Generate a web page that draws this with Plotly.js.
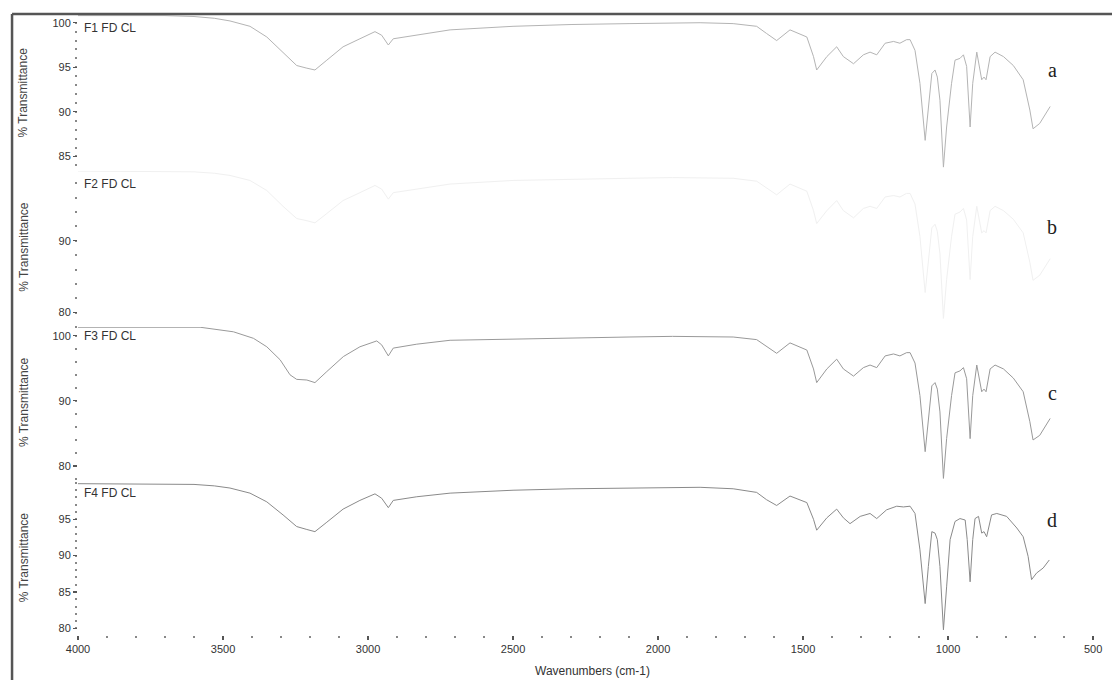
<!DOCTYPE html>
<html>
<head>
<meta charset="utf-8">
<script src="https://cdn.plot.ly/plotly-3.0.1.min.js"></script>
<style>html,body{margin:0;padding:0;background:#fff;}#chart{width:1112px;height:680px;}</style>
</head>
<body>
<div id="chart"></div>
<script>
// Wavenumbers (cm-1) and % Transmittance
const wnA = [4000,3900,3800,3700,3600,3530,3476,3407,3349,3293,3246,3211,3183,3142,3086,3028,2976,2953,2930,2913,2832,2717,2500,2300,2100,1950,1855,1741,1660,1626,1591,1545,1487,1464,1453,1418,1384,1361,1326,1292,1269,1246,1217,1188,1166,1143,1131,1114,1097,1079,1068,1056,1045,1037,1028,1016,1005,988,976,959,947,936,924,915,901,884,876,869,855,838,809,775,741,718,707,684,648];
const tA = [100.8,100.8,100.8,100.8,100.7,100.5,100.2,99.6,98.4,96.6,95.2,94.9,94.7,95.8,97.3,98.2,99.0,98.6,97.5,98.2,98.6,99.2,99.6,99.8,99.9,100.0,100.0,99.9,99.6,98.8,98.0,99.2,98.4,96.2,94.7,96.2,97.3,96.2,95.4,96.4,96.7,96.4,97.7,97.9,97.7,98.1,98.1,96.9,93.2,86.8,90.6,94.3,94.7,93.9,91.3,83.8,88.3,93.2,95.8,96.0,96.4,95.1,88.3,93.2,96.7,93.6,93.9,93.6,96.2,96.7,96.2,95.2,93.6,90.2,88.1,88.7,90.6];
const wnB = wnA;
const tB = [99.7,99.7,99.7,99.7,99.6,99.4,99.1,98.4,97.0,94.8,93.1,92.8,92.5,93.8,95.6,96.7,97.7,97.2,95.8,96.7,97.2,97.9,98.4,98.6,98.7,98.8,98.8,98.7,98.3,97.4,96.4,97.9,96.9,94.2,92.4,94.2,95.6,94.2,93.2,94.5,94.8,94.5,96.1,96.3,96.1,96.6,96.6,95.1,90.6,82.8,87.4,91.8,92.3,91.3,88.2,79.2,84.6,90.6,93.7,94.0,94.5,92.9,84.6,90.6,94.8,91.1,91.4,91.1,94.2,94.8,94.2,93.0,91.1,87.0,84.5,85.2,87.5];
const wnC = [4000,3900,3800,3700,3579,3464,3395,3349,3303,3269,3246,3211,3183,3142,3085,3028,2970,2953,2930,2913,2832,2717,2500,2300,2100,1950,1855,1741,1660,1626,1591,1545,1487,1464,1453,1418,1384,1361,1326,1292,1269,1246,1217,1188,1166,1143,1131,1114,1097,1079,1068,1056,1045,1037,1028,1016,1005,988,976,959,947,936,924,915,901,884,876,869,855,838,809,775,741,718,707,684,648];
const tC = [101.3,101.3,101.3,101.3,101.3,100.6,99.6,98.3,96.3,94.0,93.3,93.2,92.8,94.5,96.8,98.3,99.2,98.6,96.9,98.1,98.7,99.3,99.5,99.7,99.8,99.9,99.9,99.8,99.4,98.4,97.3,98.9,97.8,94.9,92.8,94.9,96.4,94.9,93.8,95.1,95.5,95.1,96.9,97.2,96.9,97.4,97.4,95.8,90.8,82.2,87.3,92.3,92.8,91.8,88.3,78.1,84.2,90.8,94.3,94.6,95.1,93.4,84.2,90.8,95.5,91.4,91.8,91.4,94.9,95.5,94.9,93.5,91.4,86.8,84.0,84.7,87.3];
const wnD = [4000,3900,3800,3700,3600,3530,3476,3407,3349,3293,3246,3211,3183,3142,3086,3028,2976,2953,2930,2913,2832,2717,2500,2300,2100,1950,1855,1741,1660,1626,1591,1545,1487,1464,1453,1418,1384,1361,1338,1303,1269,1246,1212,1177,1154,1131,1114,1097,1079,1068,1056,1045,1037,1028,1016,1005,993,976,959,941,934,924,915,907,895,884,876,867,850,832,798,763,741,724,712,695,672,651];
const tD = [99.9,99.9,99.9,99.9,99.8,99.6,99.3,98.6,97.4,95.6,94.0,93.6,93.3,94.6,96.4,97.6,98.5,97.9,96.6,97.6,98.1,98.6,99.0,99.2,99.3,99.4,99.4,99.2,98.7,97.7,96.9,98.2,97.3,95.0,93.5,95.2,96.4,95.2,94.4,95.4,95.8,95.1,96.3,96.8,96.7,96.8,95.8,90.8,83.4,88.5,93.3,93.1,92.2,88.5,79.8,85.7,92.2,94.7,95.1,94.9,92.2,86.4,92.2,95.1,95.4,93.1,93.3,92.6,95.6,95.8,95.4,93.8,92.6,89.9,86.7,87.6,88.3,89.4];

const sampleNames = ['F1 FD CL','F2 FD CL','F3 FD CL','F4 FD CL'];
const panelLetters = ['a','b','c','d'];
const yTickVals = [[85,90,95,100],[80,90],[80,90,100],[80,85,90,95]];
const xTickVals = [4000,3500,3000,2500,2000,1500,1000,500];

const lineColors = ['#b4b4b4','#f0f0f0','#999999','#8a8a8a'];
const series = [[wnA,tA],[wnB,tB],[wnC,tC],[wnD,tD]];
const yNames = ['y','y2','y3','y4'];
const traces = series.map((s,i)=>({
  x:s[0], y:s[1], type:'scatter', mode:'lines', xaxis:'x', yaxis:yNames[i],
  line:{color:lineColors[i], width:1}, hoverinfo:'skip', showlegend:false
}));

const domains = [[0.747,1],[0.496,0.747],[0.248,0.496],[0,0.248]];
const ranges = [[83.35,100.98],[78.0,99.7],[77.7,101.34],[79.08,100.27]];
const minorDt = [1,2,2,1];
const tickFont = {family:'Liberation Sans, Arial, sans-serif', size:11, color:'#333'};

const layout = {
  width:1112, height:680,
  margin:{l:78, r:5, t:14, b:45},
  paper_bgcolor:'#fff', plot_bgcolor:'#fff',
  showlegend:false,
  xaxis:{
    anchor:'y4', range:[4000,452], tickmode:'array', tickvals:xTickVals,
    ticks:'outside', ticklen:4, tickwidth:1.5, tickcolor:'#555',
    minor:{dtick:100, tick0:0, ticks:'outside', ticklen:2, tickwidth:2, tickcolor:'#888', showgrid:false},
    showline:false, showgrid:false, zeroline:false, tickfont:tickFont,
    title:{text:'Wavenumbers (cm-1)', font:{family:'Liberation Sans, Arial, sans-serif', size:12, color:'#333'}, standoff:12}
  },
  annotations:[], shapes:[]
};
yNames.forEach((n,i)=>{
  const key = i===0 ? 'yaxis' : 'yaxis'+(i+1);
  layout[key] = {
    domain:domains[i], range:ranges[i], anchor:'x',
    tickmode:'array', tickvals:yTickVals[i],
    ticks:'outside', ticklen:4, tickwidth:1.2, tickcolor:'#555',
    minor:{dtick:minorDt[i], tick0:0, ticks:'outside', ticklen:2, tickwidth:2, tickcolor:'#888', showgrid:false},
    showline:false, showgrid:false, zeroline:false, tickfont:tickFont
  };
});

const yTitleY = [0.8736,0.625,0.375,0.125];
const nameY = [0.9775,0.7262,0.4815,0.2287];
const letterY = [0.9098,0.657,0.3897,0.1852];
for(let i=0;i<4;i++){
  layout.annotations.push({xref:'paper', yref:'paper', x:-0.0525, y:yTitleY[i], text:'% Transmittance',
    textangle:-90, showarrow:false, xanchor:'center', yanchor:'middle',
    font:{family:'Liberation Sans, Arial, sans-serif', size:12, color:'#444'}});
  layout.annotations.push({xref:'paper', yref:'paper', x:0.004, y:nameY[i], text:sampleNames[i],
    showarrow:false, xanchor:'left', yanchor:'middle',
    font:{family:'Liberation Sans, Arial, sans-serif', size:12, color:'#333'}});
  layout.annotations.push({xref:'paper', yref:'paper', x:0.9466, y:letterY[i], text:panelLetters[i],
    showarrow:false, xanchor:'center', yanchor:'middle',
    font:{family:'Liberation Serif, Times New Roman, serif', size:20, color:'#222'}});
}
layout.shapes.push({type:'line', xref:'paper', yref:'paper', x0:-0.0641, x1:1.01, y0:1.0, y1:1.0, line:{color:'#555', width:2.5}});
layout.shapes.push({type:'line', xref:'paper', yref:'paper', x0:-0.0641, x1:-0.0641, y0:1.0, y1:-0.08, line:{color:'#555', width:2.5}});

Plotly.newPlot('chart', traces, layout, {staticPlot:true, displayModeBar:false});
</script>
</body>
</html>
